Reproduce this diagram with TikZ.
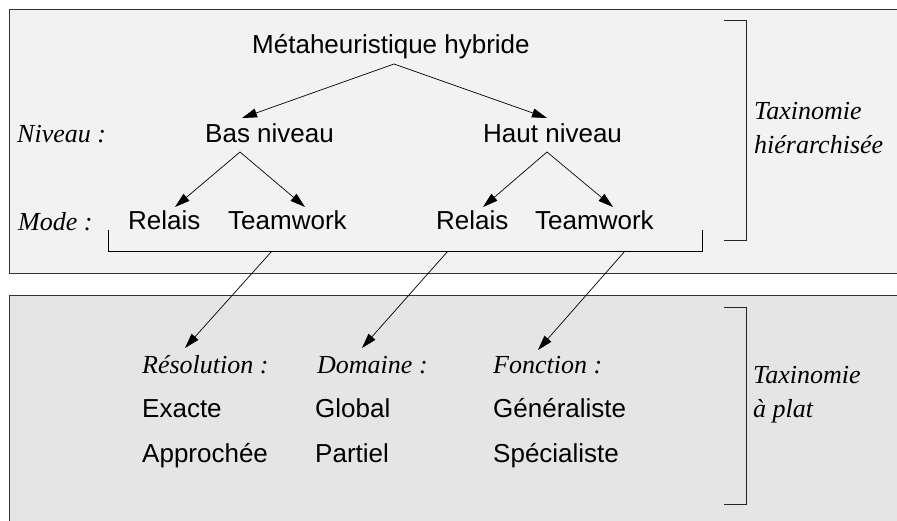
\documentclass[tikz,border=0pt]{standalone}
\usepackage{fontspec}
\setmainfont{Liberation Sans}
\newfontfamily\timesf{Liberation Serif}
\usetikzlibrary{arrows.meta}
\begin{document}
\begin{tikzpicture}[x=1pt,y=-1pt,
  lbl/.style={inner sep=0pt, anchor=base west, font=\fontsize{26}{30}\selectfont},
  ital/.style={inner sep=0pt, anchor=base west, font=\fontsize{26}{30}\selectfont\timesf\itshape},
  arr/.style={-{Triangle[length=15pt,width=9pt]}, line width=0.7pt},
  plain/.style={line width=0.8pt},
  frame/.style={draw=black!80, line width=1pt},
  brack/.style={draw=black!85, line width=1pt}]
\useasboundingbox (0,0) rectangle (897,520);
\begin{scope}
\clip (0,0) rectangle (897,520);
\path[frame, fill=gray!10] (9,9) rectangle (920,273);
\path[frame, fill=gray!20] (9,295) rectangle (920,540);
\end{scope}

% brackets
\draw[brack] (724,20) -- (746,20) -- (746,240) -- (724,240);
\draw[brack] (724,307) -- (746,307) -- (746,504) -- (724,504);
\draw[plain] (108,230) -- (108,251) -- (702,251) -- (702,230);

% texts top
\node[lbl] (meta) at (252,53) {Métaheuristique hybride};
\node[ital] (niv) at (17,142) {Niveau :};
\node[lbl] (bas) at (205,142) {Bas niveau};
\node[lbl] (haut) at (483,142) {Haut niveau};
\node[ital] (mode) at (18,230) {Mode :};
\node[lbl] (r1) at (128,229) {Relais};
\node[lbl] (t1) at (228,229) {Teamwork};
\node[lbl] (r2) at (436,229) {Relais};
\node[lbl] (t2) at (535,229) {Teamwork};
\node[ital] (tx1) at (754,119) {Taxinomie};
\node[ital] (tx1b) at (754,153) {hiérarchisée};

% texts bottom
\node[ital] (res) at (142,373) {Résolution :};
\node[ital] (dom) at (317,373) {Domaine :};
\node[ital] (fon) at (493,373) {Fonction :};
\node[lbl] (exa) at (142,417) {Exacte};
\node[lbl] (app) at (142,462) {Approchée};
\node[lbl] (glo) at (315,417) {Global};
\node[lbl] (par) at (315,462) {Partiel};
\node[lbl] (gen) at (493,417) {Généraliste};
\node[lbl] (spe) at (493,462) {Spécialiste};
\node[ital] (tx2) at (753,383) {Taxinomie};
\node[ital] (tx2b) at (753,417) {à plat};

% connector points
\coordinate (metaS) at (394,64);
\coordinate (basN) at (242,118);
\coordinate (hautN) at (547,118);
\coordinate (basS) at (240,152);
\coordinate (hautS) at (547,152);
\coordinate (r1N) at (175,207);
\coordinate (t1N) at (305,207);
\coordinate (r2N) at (483,207);
\coordinate (t2N) at (613,207);
\coordinate (b1) at (272,251);
\coordinate (b2) at (448,251);
\coordinate (b3) at (625,251);
\coordinate (resN) at (185,348);
\coordinate (domN) at (362,348);
\coordinate (fonN) at (538,350);

\draw[arr] (metaS) -- (basN);
\draw[arr] (metaS) -- (hautN);
\draw[arr] (basS) -- (r1N);
\draw[arr] (basS) -- (t1N);
\draw[arr] (hautS) -- (r2N);
\draw[arr] (hautS) -- (t2N);
\draw[arr] (b1) -- (resN);
\draw[arr] (b2) -- (domN);
\draw[arr] (b3) -- (fonN);
\end{tikzpicture}
\end{document}
